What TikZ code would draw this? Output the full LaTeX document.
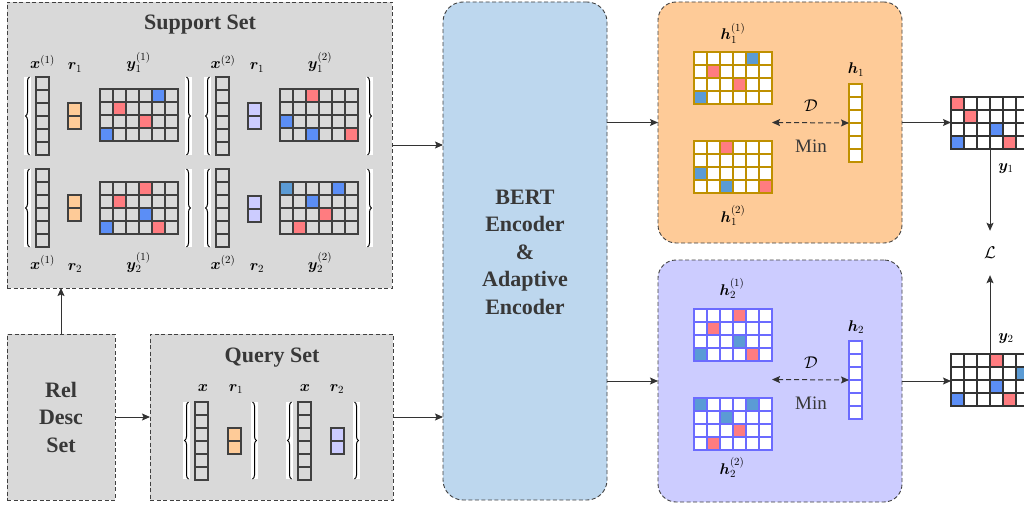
\documentclass[tikz,border=0pt]{standalone}
\usepackage{fix-cm}
\usepackage{amsmath}
\usepackage{bm}
\usepackage[no-math]{fontspec}
\setmainfont{Liberation Serif}
\usetikzlibrary{arrows.meta,calc,decorations.pathreplacing}
\definecolor{bggray}{HTML}{D9D9D9}
\definecolor{bertblue}{HTML}{BDD7EE}
\definecolor{peach}{HTML}{FECB98}
\definecolor{lav}{HTML}{CCCCFF}
\definecolor{cred}{HTML}{FF7C80}
\definecolor{cblue}{HTML}{5B8EF6}
\definecolor{csteel}{HTML}{5B9BD5}
\definecolor{gold}{HTML}{BF9000}
\definecolor{vio}{HTML}{6B6BFF}
\definecolor{dk}{HTML}{404040}
\definecolor{ln}{HTML}{333333}
\definecolor{txt}{HTML}{383838}

\newcommand\cgrid[8]{% name, x, y, cols, rows, fill, line colour, coloured cells
  \node[inner sep=0pt, outer sep=0pt, minimum width=#4*13pt, minimum height=#5*13pt,
        anchor=north west, fill=#6] (#1) at (#2,#3) {};
  \foreach \cc/\rr/\kk in {#8} {\fill[\kk] (#2+\cc*13-13,#3+\rr*13-13) rectangle ++(13,13);}
  \foreach \ii in {0,...,#4} {\draw[#7, gridline] (#2+\ii*13,#3) -- (#2+\ii*13,#3+#5*13);}
  \foreach \jj in {0,...,#5} {\draw[#7, gridline] (#2,#3+\jj*13) -- (#2+#4*13,#3+\jj*13);}
}
\newcommand\lbr[3]{% x, ytop, ybot
  \fill[white] (#1,#2) rectangle (#1+7,#3);
  \draw[brc] (#1+5.5,#3) -- (#1+5.5,#2);
}
\newcommand\rbr[3]{%
  \fill[white] (#1,#2) rectangle (#1+7,#3);
  \draw[brc] (#1+1.5,#2) -- (#1+1.5,#3);
}

\begin{document}
\begin{tikzpicture}[x=1pt,y=-1pt,
  gridline/.style={line width=1.1pt, line cap=rect},
  brc/.style={decorate, decoration={brace, amplitude=4pt}, line width=1pt, black},
  dbox/.style={anchor=north west, inner sep=0pt, outer sep=0pt, draw=dk, line width=0.9pt,
               dash pattern=on 4pt off 2.5pt},
  title/.style={font=\fontsize{22}{27.5}\selectfont\bfseries, text=txt, inner sep=0pt},
  ml/.style={font=\fontsize{15.5}{18}\selectfont, anchor=base, inner sep=0pt},
  cal/.style={font=\fontsize{17}{20}\selectfont, inner sep=0pt},
  minl/.style={font=\fontsize{19}{22}\selectfont, text=txt, anchor=base, inner sep=0pt},
  arr/.style={draw=ln, line width=1pt, -{Stealth[length=8pt,width=7pt,inset=1.5pt]}},
  darr/.style={draw=ln, line width=1pt, dash pattern=on 5pt off 3pt,
               {Stealth[length=8pt,width=7pt,inset=1.5pt]}-{Stealth[length=8pt,width=7pt,inset=1.5pt]}}
]
\useasboundingbox (0,0) rectangle (1024,508);
\clip (0,0) rectangle (1024,508);

% ---------- boxes
\node[dbox, fill=bggray, minimum width=385pt, minimum height=286pt] (sup) at (7,2) {};
\node[dbox, fill=bggray, minimum width=108pt, minimum height=166pt] (rel) at (7,334) {};
\node[dbox, fill=bggray, minimum width=243pt, minimum height=166pt] (qry) at (150,334) {};
\node[dbox, rounded corners=20pt, fill=bertblue, minimum width=164pt, minimum height=498pt] (bert) at (443,2) {};
\node[dbox, rounded corners=18pt, fill=peach, minimum width=244pt, minimum height=241pt] (ob) at (658,2) {};
\node[dbox, rounded corners=18pt, fill=lav, minimum width=244pt, minimum height=242pt] (pb) at (658,260) {};

% ---------- titles
\node[title, anchor=base] (supT) at (200,30) {Support Set};
\node[title, anchor=base] (qryT) at (272,362) {Query Set};
\node[title, align=center] (relT) at (61,417) {Rel\\Desc\\Set};
\node[title, align=center] (bertT) at (525,252) {BERT\\Encoder\\\&\\Adaptive\\Encoder};

% ---------- support set: top-left group
\lbr{24}{77}{155} \rbr{185}{77}{155}
\cgrid{sx11}{36}{77}{1}{6}{bggray}{dk}{1/1/bggray}
\cgrid{sr11}{68}{103}{1}{2}{peach}{dk}{1/1/peach}
\cgrid{sy11}{100}{89}{6}{4}{bggray}{dk}{5/1/cblue,2/2/cred,4/3/cred,1/4/cblue}
\node[ml] (lx11) at (42.5,69) {$\bm{x}^{(1)}$};
\node[ml] (lr11) at (75,70) {$\bm{r}_1$};
\node[ml] (ly11) at (138.5,69) {$\bm{y}_1^{(1)}$};

% bottom-left group
\lbr{24}{169}{247} \rbr{185}{169}{247}
\cgrid{sx21}{36}{169}{1}{6}{bggray}{dk}{1/1/bggray}
\cgrid{sr21}{68}{195}{1}{2}{peach}{dk}{1/1/peach}
\cgrid{sy21}{100}{182}{6}{4}{bggray}{dk}{4/1/cred,2/2/cred,4/3/cblue,1/4/cblue,5/4/cred}
\node[ml] (lx21) at (42.5,269) {$\bm{x}^{(1)}$};
\node[ml] (lr21) at (75,270) {$\bm{r}_2$};
\node[ml] (ly21) at (138.5,269) {$\bm{y}_2^{(1)}$};

% top-right group
\lbr{204}{77}{155} \rbr{366}{77}{155}
\cgrid{sx12}{216}{77}{1}{6}{bggray}{dk}{1/1/bggray}
\cgrid{sr12}{248}{103}{1}{2}{lav}{dk}{1/1/lav}
\cgrid{sy12}{280}{89}{6}{4}{bggray}{dk}{3/1/cred,1/3/cblue,3/4/cblue,6/4/cred}
\node[ml] (lx12) at (223,69) {$\bm{x}^{(2)}$};
\node[ml] (lr12) at (257,70) {$\bm{r}_1$};
\node[ml] (ly12) at (320,69) {$\bm{y}_1^{(2)}$};

% bottom-right group
\lbr{204}{169}{247} \rbr{366}{169}{247}
\cgrid{sx22}{216}{169}{1}{6}{bggray}{dk}{1/1/bggray}
\cgrid{sr22}{248}{196}{1}{2}{lav}{dk}{1/1/lav}
\cgrid{sy22}{280}{182}{6}{4}{bggray}{dk}{1/1/csteel,5/1/cblue,3/2/cblue,4/3/cred,2/4/cred}
\node[ml] (lx22) at (223,269) {$\bm{x}^{(2)}$};
\node[ml] (lr22) at (257,270) {$\bm{r}_2$};
\node[ml] (ly22) at (320,269) {$\bm{y}_2^{(2)}$};

% ---------- query set
\lbr{183}{402}{479} \rbr{251}{402}{479}
\cgrid{qx1}{195}{402}{1}{6}{bggray}{dk}{1/1/bggray}
\cgrid{qr1}{228}{428}{1}{2}{peach}{dk}{1/1/peach}
\lbr{286}{402}{479} \rbr{353}{402}{479}
\cgrid{qx2}{298}{402}{1}{6}{bggray}{dk}{1/1/bggray}
\cgrid{qr2}{331}{428}{1}{2}{lav}{dk}{1/1/lav}
\node[ml] (lqx1) at (203,391) {$\bm{x}$};
\node[ml] (lqr1) at (236,391) {$\bm{r}_1$};
\node[ml] (lqx2) at (305,391) {$\bm{x}$};
\node[ml] (lqr2) at (337,391) {$\bm{r}_2$};

% ---------- orange box
\cgrid{h11}{694}{52}{6}{4}{white}{gold}{5/1/csteel,2/2/cred,4/3/cred,1/4/csteel}
\cgrid{h12}{694}{141}{6}{4}{white}{gold}{3/1/cred,1/3/csteel,3/4/csteel,6/4/cred}
\cgrid{h1c}{849}{84}{1}{6}{white}{gold}{1/1/white}
\node[ml] (lh11) at (733,40) {$\bm{h}_1^{(1)}$};
\node[ml] (lh12) at (733,222) {$\bm{h}_1^{(2)}$};
\node[ml] (lh1) at (856,74) {$\bm{h}_1$};
\node[cal, anchor=base] (D1) at (811,111) {$\mathcal{D}$};
\node[minl] (min1) at (811,152) {Min};
\draw[darr] ($(h11.south east)!0.5!(h12.north east)$) -- (h1c.west);

% ---------- purple box
\cgrid{h21}{694}{309}{6}{4}{white}{vio}{4/1/cred,2/2/cred,4/3/csteel,1/4/csteel,5/4/cred}
\cgrid{h22}{694}{398}{6}{4}{white}{vio}{1/1/csteel,5/1/csteel,3/2/csteel,4/3/cred,2/4/cred}
\cgrid{h2c}{849}{341}{1}{6}{white}{vio}{1/1/white}
\node[ml] (lh21) at (732,295) {$\bm{h}_2^{(1)}$};
\node[ml] (lh22) at (732,474) {$\bm{h}_2^{(2)}$};
\node[ml] (lh2) at (856,331) {$\bm{h}_2$};
\node[cal, anchor=base] (D2) at (811,368) {$\mathcal{D}$};
\node[minl] (min2) at (811,409) {Min};
\draw[darr] ($(h21.south east)!0.5!(h22.north east)$) -- (h2c.west);

% ---------- outputs
\cgrid{y1m}{951}{97}{6}{4}{white}{ln}{1/1/cred,2/2/cred,4/3/cblue,1/4/cblue,5/4/cred}
\cgrid{y2m}{951}{354}{6}{4}{white}{ln}{4/1/cred,6/2/csteel,4/3/cblue,1/4/cblue,5/4/cred}
\node[cal, minimum height=44pt] (L) at (990,253) {$\mathcal{L}$};
\node[ml] (ly1) at (1006,170) {$\bm{y}_1$};
\node[ml] (ly2) at (1006,340) {$\bm{y}_2$};

% ---------- connectors
\draw[arr] (rel.north) -- (rel.north |- sup.south);
\draw[arr] (rel.east) -- (rel.east -| qry.west);
\draw[arr] (sup.east) -- (sup.east -| bert.west);
\draw[arr] (qry.east) -- (qry.east -| bert.west);
\draw[arr] (ob.west -| bert.east) -- (ob.west);
\draw[arr] (pb.west -| bert.east) -- (pb.west);
\draw[arr] (ob.east) -- (ob.east -| y1m.west);
\draw[arr] (pb.east) -- (pb.east -| y2m.west);
\draw[arr] (y1m.south) -- (L.north);
\draw[arr] (y2m.north) -- (L.south);
\end{tikzpicture}
\end{document}
